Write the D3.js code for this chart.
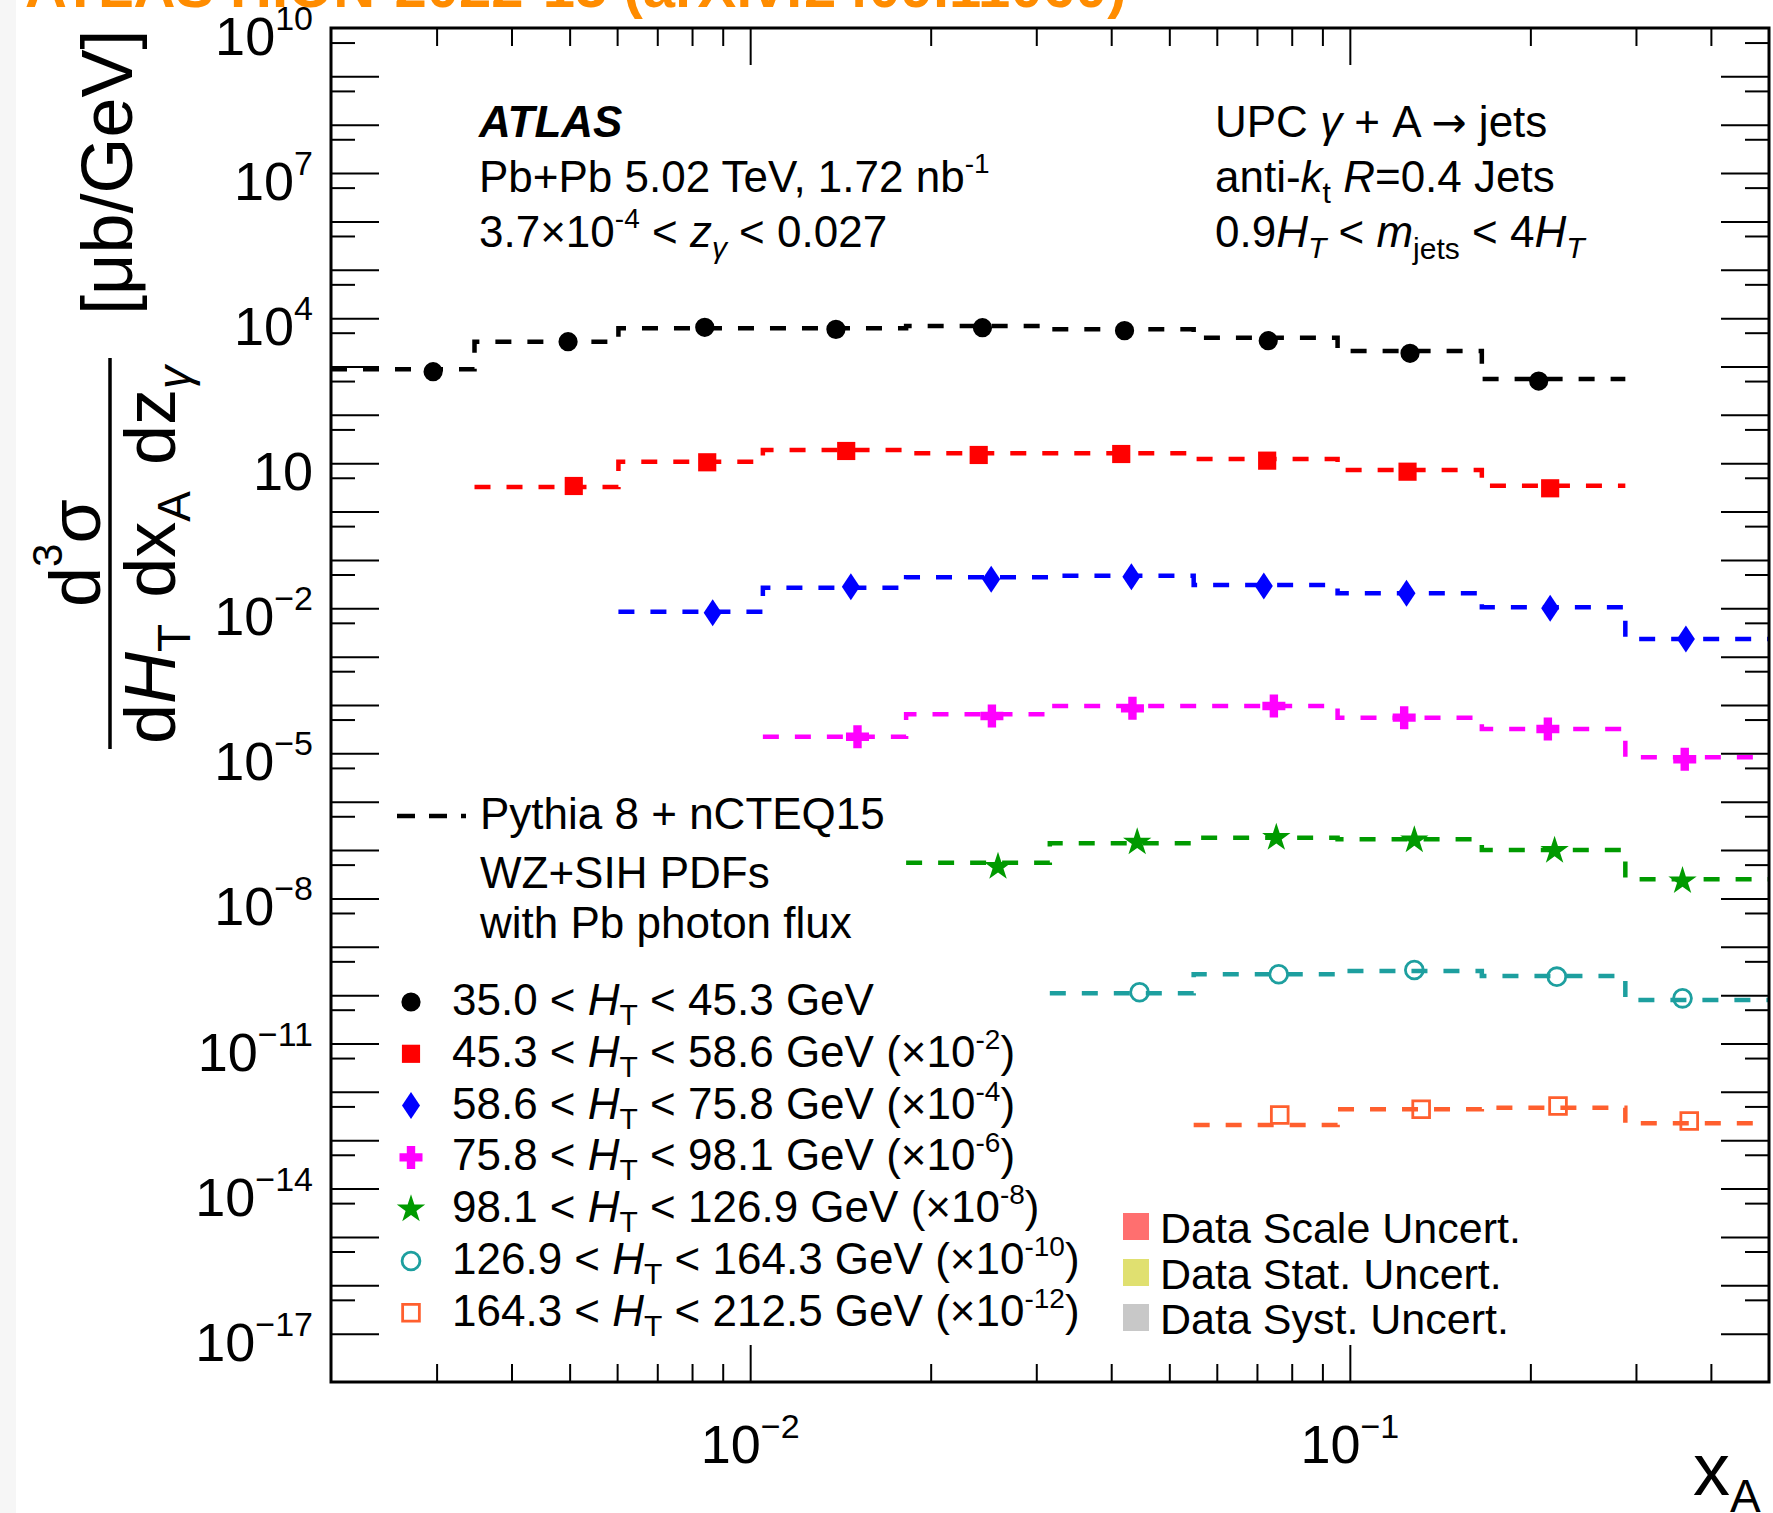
<!DOCTYPE html>
<html><head><meta charset="utf-8">
<script src="https://cdn.jsdelivr.net/npm/d3@7"></script>
<style>
body{margin:0;background:#fff;}
svg{display:block;font-family:"Liberation Sans",Arial,Helvetica,sans-serif;}
text{white-space:pre;}
</style></head><body>
<svg id="c" width="1773" height="1513"></svg>
<script>
// ---------------- data ----------------
const binEdges = [0.002, 0.00347, 0.00603, 0.0105, 0.0182, 0.0316, 0.0549, 0.0954, 0.166, 0.288, 0.5];

const htLow  = ["35.0", "45.3", "58.6", "75.8", "98.1", "126.9", "164.3"];
const htHigh = ["45.3", "58.6", "75.8", "98.1", "126.9", "164.3", "212.5"];
const scaleExp = [null, -2, -4, -6, -8, -10, -12];
const mcFirstBin = [0, 1, 2, 3, 4, 5, 6];

// Pythia 8 + nCTEQ15 predictions (already multiplied by the legend factor), per xA bin
const mc1 = [875, 3260, 6170, 6170, 6890, 5870, 3940, 2090, 551];
const mc2 = [3.22, 10.7, 18.7, 16.0, 16.0, 12.2, 7.24, 3.43];
const mc3 = [0.00851, 0.0267, 0.0438, 0.0472, 0.0303, 0.0204, 0.0105, 0.00232];
const mc4 = [2.21e-5, 6.41e-5, 9.53e-5, 9.53e-5, 5.47e-5, 3.19e-5, 8.28e-6];
const mc5 = [5.48e-8, 1.38e-7, 1.80e-7, 1.67e-7, 1.00e-7, 2.49e-8];
const mc6 = [1.09e-10, 2.70e-10, 3.16e-10, 2.49e-10, 7.92e-11];
const mc7 = [2.07e-13, 4.36e-13, 4.71e-13, 2.24e-13];

// data points: xA positions and cross sections (scaled)
const dx1 = [0.00296, 0.00497, 0.00840, 0.0139, 0.0244, 0.0421, 0.0731, 0.126, 0.2065];
const dy1 = [780, 3260, 6470, 5870, 6340, 5510, 3420, 1875, 501];
const dx2 = [0.00508, 0.00848, 0.01446, 0.02405, 0.04157, 0.0728, 0.1248, 0.2158];
const dy2 = [3.38, 10.45, 17.9, 14.8, 15.5, 11.3, 6.68, 3.03];
const dx3 = [0.00866, 0.01472, 0.02523, 0.04322, 0.07187, 0.1243, 0.2158, 0.3634];
const dy3 = [0.00811, 0.0280, 0.0397, 0.0450, 0.0289, 0.0204, 0.0100, 0.00232];
const dx4 = [0.0151, 0.0253, 0.0434, 0.0747, 0.1232, 0.2139, 0.3618];
const dy4 = [2.21e-5, 5.92e-5, 8.53e-5, 9.53e-5, 5.47e-5, 3.19e-5, 7.53e-6];
const dx5 = [0.0259, 0.0442, 0.0754, 0.1281, 0.2195, 0.3587];
const dy5 = [4.53e-8, 1.45e-7, 1.80e-7, 1.61e-7, 9.72e-8, 2.29e-8];
const dx6 = [0.0446, 0.0761, 0.1281, 0.2214, 0.3587];
const dy6 = [1.15e-10, 2.70e-10, 3.31e-10, 2.41e-10, 8.59e-11];
const dx7 = [0.0764, 0.1315, 0.2224, 0.3681];
const dy7 = [3.33e-13, 4.36e-13, 5.11e-13, 2.49e-13];

const seriesColors = ["#000000", "#ff0000", "#0000ff", "#ff00ff", "#009a00", "#1d9f9f", "#ff5f2e"];
const seriesSymbols = ["circle", "square", "diamond", "plus", "star", "ocircle", "osquare"];

const yLabelExps = [10, 7, 4, 1, -2, -5, -8, -11, -14, -17];
const xLabelExps = [-2, -1];
const uncLabels = ["Data Scale Uncert.", "Data Stat. Uncert.", "Data Syst. Uncert."];
const uncColors = ["#ff6f6f", "#e0e070", "#c8c8c8"];

// ---------------- layout ----------------
const W = 1773, H = 1513;
const M = {left: 331, right: 1769, top: 28, bottom: 1382};
const x = d3.scaleLog().domain([0.002, 0.5]).range([M.left, M.right]);
const y = d3.scaleLog().domain([1e-18, 1e10]).range([M.bottom, M.top]);

const svg = d3.select("#c");
svg.append("rect").attr("width", W).attr("height", H).attr("fill", "#fff");
svg.append("rect").attr("x", 0).attr("y", 0).attr("width", 16).attr("height", H).attr("fill", "#f6f6f6");

function rich(parent, xp, yp, parts, opt = {}) {
  const t = parent.append("text")
    .attr("x", xp).attr("y", yp)
    .attr("font-size", opt.size || 44)
    .attr("fill", opt.fill || "#000")
    .attr("text-anchor", opt.anchor || "start");
  if (opt.transform) t.attr("transform", opt.transform);
  if (opt.bold) t.attr("font-weight", "bold");
  let cur = 0;
  parts.forEach(p => {
    if (typeof p === "string") p = {t: p};
    const s = t.append("tspan").text(p.t);
    const sh = p.dy || 0;
    if (sh !== cur) { s.attr("dy", sh - cur); cur = sh; }
    if (p.dx) s.attr("dx", p.dx);
    if (p.size) s.attr("font-size", p.size);
    if (p.it) s.attr("font-style", "italic");
    if (p.b) s.attr("font-weight", "bold");
    if (p.font) s.attr("font-family", p.font);
  });
  return t;
}

// title (partially cut at top)
rich(svg, 25, 7, ["ATLAS HION-2022-15 (arXiv:2409.11060)"], {size: 58, fill: "#ff8c00", bold: true});

// ---------------- symbols ----------------
const symDiamond = {draw(ctx) { const hw = 9, hh = 13.5;
  ctx.moveTo(0, -hh); ctx.lineTo(hw, 0); ctx.lineTo(0, hh); ctx.lineTo(-hw, 0); ctx.closePath(); }};
const symPlus = {draw(ctx) { const a = 11.5, t = 4.2;
  ctx.moveTo(-t, -a); ctx.lineTo(t, -a); ctx.lineTo(t, -t); ctx.lineTo(a, -t); ctx.lineTo(a, t);
  ctx.lineTo(t, t); ctx.lineTo(t, a); ctx.lineTo(-t, a); ctx.lineTo(-t, t); ctx.lineTo(-a, t);
  ctx.lineTo(-a, -t); ctx.lineTo(-t, -t); ctx.closePath(); }};
const symSpec = {
  circle:  {type: d3.symbolCircle, size: 290, fill: true},
  square:  {type: d3.symbolSquare, size: 330, fill: true},
  diamond: {type: symDiamond, size: 1, fill: true},
  plus:    {type: symPlus, size: 1, fill: true},
  star:    {type: d3.symbolStar, size: 250, fill: true},
  ocircle: {type: d3.symbolCircle, size: 250, fill: false},
  osquare: {type: d3.symbolSquare, size: 280, fill: false}
};
function drawMarker(g, name, color, cx, cy) {
  const s = symSpec[name];
  const p = g.append("path")
    .attr("d", d3.symbol().type(s.type).size(s.size)())
    .attr("transform", `translate(${cx},${cy})`);
  if (s.fill) p.attr("fill", color);
  else p.attr("fill", "none").attr("stroke", color).attr("stroke-width", 2.8);
  return p;
}

// ---------------- series ----------------
const mcList = [mc1, mc2, mc3, mc4, mc5, mc6, mc7];
const dxList = [dx1, dx2, dx3, dx4, dx5, dx6, dx7];
const dyList = [dy1, dy2, dy3, dy4, dy5, dy6, dy7];
const series = mcList.map((mc, i) => ({
  color: seriesColors[i], sym: seriesSymbols[i],
  steps: mc.flatMap((v, j) => [[binEdges[mcFirstBin[i] + j], v], [binEdges[mcFirstBin[i] + j + 1], v]]),
  pts: dxList[i].map((xv, j) => [xv, dyList[i][j]])
}));

svg.append("clipPath").attr("id", "clip").append("rect")
  .attr("x", M.left).attr("y", M.top).attr("width", M.right - M.left).attr("height", M.bottom - M.top);
const plot = svg.append("g").attr("clip-path", "url(#clip)");

const line = d3.line().x(d => x(d[0])).y(d => y(d[1]));
series.forEach(s => {
  plot.append("path").attr("d", line(s.steps))
    .attr("fill", "none").attr("stroke", s.color).attr("stroke-width", 4.5)
    .attr("stroke-dasharray", "16,16");
});
series.forEach(s => {
  s.pts.forEach(p => drawMarker(plot, s.sym, s.color, x(p[0]), y(p[1])));
});

// ---------------- axes ----------------
const xMajor = xLabelExps.map(e => Math.pow(10, e));
const xMinor = x.ticks().filter(v => v > 0.0021 && v < 0.49 && !xMajor.some(m => Math.abs(m - v) / m < 1e-6));
const yDecades = d3.range(-17, 10).map(e => Math.pow(10, e));
const yHalf = d3.range(-17, 10).map(e => 5 * Math.pow(10, e));

function styleAxis(g) {
  g.select(".domain").remove();
  g.selectAll(".tick line").attr("stroke", "#000").attr("stroke-width", 2);
  g.selectAll(".tick text").remove();
}
svg.append("g").attr("transform", `translate(0,${M.bottom})`)
  .call(d3.axisBottom(x).tickValues(xMinor).tickSize(-18).tickFormat("")).call(styleAxis);
svg.append("g").attr("transform", `translate(0,${M.bottom})`)
  .call(d3.axisBottom(x).tickValues(xMajor).tickSize(-37).tickFormat("")).call(styleAxis);
svg.append("g").attr("transform", `translate(0,${M.top})`)
  .call(d3.axisTop(x).tickValues(xMinor).tickSize(-18).tickFormat("")).call(styleAxis);
svg.append("g").attr("transform", `translate(0,${M.top})`)
  .call(d3.axisTop(x).tickValues(xMajor).tickSize(-37).tickFormat("")).call(styleAxis);

svg.append("g").attr("transform", `translate(${M.left},0)`)
  .call(d3.axisLeft(y).tickValues(yDecades).tickSize(-48).tickFormat("")).call(styleAxis);
svg.append("g").attr("transform", `translate(${M.left},0)`)
  .call(d3.axisLeft(y).tickValues(yHalf).tickSize(-24).tickFormat("")).call(styleAxis);
svg.append("g").attr("transform", `translate(${M.right},0)`)
  .call(d3.axisRight(y).tickValues(yDecades).tickSize(-48).tickFormat("")).call(styleAxis);
svg.append("g").attr("transform", `translate(${M.right},0)`)
  .call(d3.axisRight(y).tickValues(yHalf).tickSize(-24).tickFormat("")).call(styleAxis);

// frame
svg.append("rect").attr("x", M.left).attr("y", M.top)
  .attr("width", M.right - M.left).attr("height", M.bottom - M.top)
  .attr("fill", "none").attr("stroke", "#000").attr("stroke-width", 3);

const expStr = e => (e < 0 ? "\u2212" + (-e) : "" + e);
yLabelExps.forEach(e => {
  const parts = e === 1 ? ["10"] : ["10", {t: expStr(e), size: 34, dy: -25}];
  rich(svg, 313, y(Math.pow(10, e)) + 27, parts, {size: 54, anchor: "end"});
});
xLabelExps.forEach(e => {
  rich(svg, x(Math.pow(10, e)), 1463, ["10", {t: expStr(e), size: 34, dy: -25}], {size: 54, anchor: "middle"});
});

// axis titles
rich(svg, 1693, 1495, ["x", {t: "A", size: 46, dy: 17}], {size: 74});
rich(svg, 0, 0, ["[\u03bcb/GeV]"], {size: 72, transform: "translate(132,315) rotate(-90)"});
rich(svg, 0, 0, ["d", {t: "3", size: 42, dy: -38}, {t: "\u03c3"}],
  {size: 72, anchor: "middle", transform: "translate(100,553) rotate(-90)"});
svg.append("line").attr("x1", 110).attr("x2", 110).attr("y1", 358).attr("y2", 749)
  .attr("stroke", "#000").attr("stroke-width", 3.5);
rich(svg, 0, 0, ["d", {t: "H", it: true}, {t: "T", size: 46, dy: 15}, {t: "d", dx: 26}, "x",
  {t: "A", size: 46, dy: 15}, {t: "d", dx: 26}, "z", {t: "\u03b3", it: true, size: 46, dy: 15}],
  {size: 72, anchor: "middle", transform: "translate(175,555) rotate(-90)"});

// ---------------- annotations ----------------
rich(svg, 479, 137, [{t: "ATLAS", b: true, it: true}], {size: 44});
rich(svg, 479, 192, ["Pb+Pb 5.02 TeV, 1.72 nb", {t: "-1", size: 28, dy: -19}], {size: 44});
rich(svg, 479, 247, ["3.7\u00d710", {t: "-4", size: 28, dy: -19}, " < ", {t: "z", it: true},
  {t: "\u03b3", it: true, size: 30, dy: 11}, " < 0.027"], {size: 44});
rich(svg, 1215, 137, ["UPC ", {t: "\u03b3", it: true}, " + A ", {t: "\u2192", font: "DejaVu Sans", size: 42}, " jets"], {size: 44});
rich(svg, 1215, 192, ["anti-", {t: "k", it: true}, {t: "t", size: 30, dy: 11}, " ", {t: "R", it: true}, "=0.4 Jets"], {size: 44});
rich(svg, 1215, 247, ["0.9", {t: "H", it: true}, {t: "T", it: true, size: 30, dy: 11}, " < ", {t: "m", it: true},
  {t: "jets", size: 30, dy: 12}, " < 4", {t: "H", it: true}, {t: "T", it: true, size: 30, dy: 11}], {size: 44});

// ---------------- legend ----------------
svg.append("line").attr("x1", 397).attr("x2", 466).attr("y1", 816).attr("y2", 816)
  .attr("stroke", "#000").attr("stroke-width", 4.5).attr("stroke-dasharray", "18,14");
rich(svg, 480, 829, ["Pythia 8 + nCTEQ15"], {size: 44});
rich(svg, 480, 888, ["WZ+SIH PDFs"], {size: 44});
rich(svg, 480, 938, ["with Pb photon flux"], {size: 44});

htLow.forEach((lo, i) => {
  const by = 1015 + i * 51.8;
  drawMarker(svg, seriesSymbols[i], seriesColors[i], 411, by - 13);
  const parts = [lo + " < ", {t: "H", it: true}, {t: "T", size: 30, dy: 10}, " < " + htHigh[i] + " GeV"];
  if (scaleExp[i] !== null) parts.push(" (\u00d710", {t: "" + scaleExp[i], size: 28, dy: -18}, ")");
  rich(svg, 452, by, parts, {size: 44});
});

uncLabels.forEach((lab, i) => {
  const by = [1243, 1289, 1334][i];
  svg.append("rect").attr("x", 1123).attr("y", by - 30).attr("width", 26).attr("height", 27).attr("fill", uncColors[i]);
  rich(svg, 1160, by, [lab], {size: 43});
});
</script>
</body></html>
